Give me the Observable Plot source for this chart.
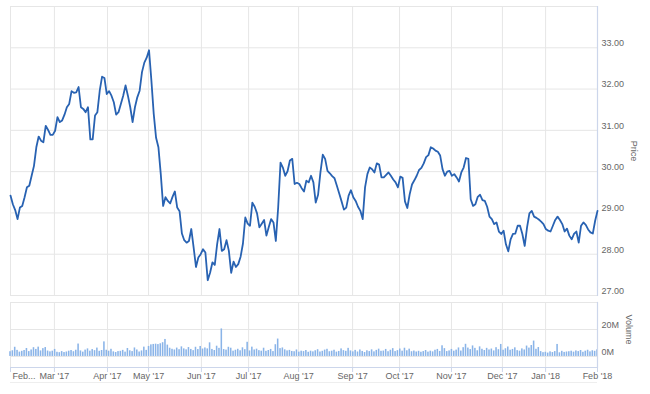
<!DOCTYPE html>
<html>
<head>
<meta charset="utf-8">
<script src="https://cdn.jsdelivr.net/npm/d3@7"></script>
<script src="https://cdn.jsdelivr.net/npm/@observablehq/plot@0.6"></script>
<style>
  body { margin: 0; background: #fff; }
  #chart { width: 650px; height: 394px; position: relative; overflow: hidden; }
  #chart svg { display: block; }
</style>
</head>
<body>
<div id="chart"></div>
<script>
// Daily closing price, one value per trading day (Feb 2017 – Feb 2018)
const price = [
  29.42, 29.21, 29.07, 28.85, 29.13, 29.17, 29.38, 29.62, 29.66, 29.90,
  30.14, 30.59, 30.85, 30.75, 30.71, 31.11, 31.01, 30.89, 30.89, 30.99,
  31.32, 31.20, 31.24, 31.38, 31.56, 31.64, 31.95, 31.91, 31.92, 32.05,
  31.56, 31.52, 31.44, 31.56, 30.78, 30.78, 31.36, 31.44, 31.96, 32.30,
  32.27, 31.88, 31.95, 31.84, 31.68, 31.38, 31.44, 31.64, 31.84, 32.09,
  31.84, 31.56, 31.20, 31.56, 31.80, 31.96, 32.41, 32.64, 32.76, 32.94,
  32.21, 31.40, 30.82, 30.59, 29.94, 29.17, 29.38, 29.29, 29.23, 29.39,
  29.52, 29.13, 29.04, 28.50, 28.34, 28.28, 28.32, 28.61, 28.16, 27.69,
  27.92, 28.00, 28.12, 28.04, 27.37, 27.55, 27.80, 27.74, 28.24, 28.61,
  28.08, 28.12, 28.34, 28.08, 27.55, 27.82, 27.69, 27.76, 27.94, 28.26,
  28.89, 28.74, 28.69, 29.25, 29.15, 28.99, 28.65, 28.74, 28.83, 28.45,
  28.66, 28.85, 28.77, 28.32, 29.13, 30.22, 30.10, 29.90, 30.01, 30.27,
  30.31, 29.70, 29.73, 29.70, 29.60, 29.52, 29.78, 29.74, 29.90, 29.74,
  29.25, 29.44, 29.98, 30.41, 30.31, 30.02, 29.96, 29.89, 29.84, 29.66,
  29.47, 29.28, 29.08, 29.13, 29.42, 29.55, 29.38, 29.29, 29.15, 29.05,
  28.85, 29.62, 29.94, 30.10, 30.06, 29.98, 30.20, 30.17, 29.86, 29.86,
  29.92, 29.98, 29.90, 29.81, 29.74, 29.62, 29.88, 29.85, 29.28, 29.12,
  29.45, 29.69, 29.79, 29.90, 30.04, 30.09, 30.20, 30.35, 30.40, 30.59,
  30.56, 30.51, 30.48, 30.39, 30.06, 29.90, 30.00, 30.02, 29.90, 29.94,
  29.86, 29.76, 29.98, 30.10, 30.33, 30.31, 29.33, 29.17, 29.21, 29.39,
  29.44, 29.31, 29.29, 29.15, 28.91, 28.85, 28.73, 28.77, 28.55, 28.49,
  28.57, 28.24, 28.07, 28.36, 28.49, 28.50, 28.69, 28.69, 28.49, 28.20,
  28.65, 28.99, 29.05, 28.91, 28.88, 28.84, 28.79, 28.73, 28.61, 28.57,
  28.55, 28.69, 28.83, 28.91, 28.83, 28.73, 28.55, 28.62, 28.45, 28.36,
  28.49, 28.55, 28.28, 28.69, 28.77, 28.71, 28.60, 28.53, 28.50, 28.81,
  29.05
];

// Daily volume in millions, same trading days
const volume = [
  3.5, 4.2, 6.8, 4.5, 3.2, 3.8, 4.4, 5.9, 3.6, 4.8, 6.5, 5.2, 6.9, 4.1, 5.8, 6.6, 4.0, 3.4, 3.9,
  5.2, 3.1, 2.8, 3.6, 2.9, 3.3, 3.9, 4.4, 3.5, 4.6, 9.2, 4.1, 3.2, 4.7, 5.6, 3.9, 5.1, 4.3, 6.2, 3.8, 4.4, 10.8, 4.6,
  3.9, 5.3, 3.4, 2.9, 3.6, 3.8, 4.5, 3.2, 5.9, 4.2, 3.6, 6.3, 4.8, 3.3, 4.1, 6.9, 4.5, 7.4, 8.6,
  8.9, 9.1, 8.8, 9.4, 10.2, 12.6, 8.4, 6.1, 5.3, 4.8, 6.2, 5.0, 7.1, 5.6, 4.9, 6.6, 5.2, 4.3, 6.8, 5.1, 7.4, 5.5,
  6.3, 5.6, 10.1, 5.2, 4.4, 7.6, 6.0, 20.4, 5.1, 4.7, 6.8, 6.1, 3.9, 4.6, 5.3, 4.2, 6.4, 5.0, 10.5, 4.1, 6.9, 4.8,
  5.4, 4.3, 3.9, 6.1, 3.8, 4.4, 5.2, 3.6, 8.7, 12.9, 5.8, 6.3, 4.9, 4.1, 4.5, 3.7, 3.5, 4.8, 3.2, 3.9,
  3.6, 4.4, 3.1, 3.9, 3.4, 4.2, 5.0, 3.3, 3.8, 4.7, 5.3, 3.5, 3.9, 4.6, 3.2, 3.7, 5.6, 4.3, 3.8, 6.0, 4.1, 3.4, 4.5,
  3.3, 4.8, 3.7, 2.9, 4.2, 3.6, 4.9, 3.4, 4.5, 5.4, 3.8, 4.0, 5.2, 3.5, 4.6, 5.8, 3.6, 4.3, 5.5, 3.9,
  6.1, 4.2, 5.4, 3.5, 4.0, 3.3, 3.8, 3.1, 3.6, 4.4, 3.2, 3.9, 3.4, 4.6, 5.2, 3.7, 7.9, 5.8, 3.6, 4.1, 5.2, 3.9,
  4.7, 6.3, 4.0, 6.5, 9.0, 6.2, 5.1, 7.8, 6.0, 4.2, 7.1, 5.3, 4.4, 6.0, 4.8, 5.5, 4.1, 6.5, 5.0, 8.9, 4.6,
  5.7, 7.0, 4.6, 5.2, 6.4, 4.3, 3.9, 5.6, 4.8, 7.7, 6.2, 8.1, 11.4, 5.3, 6.6, 3.6, 2.8, 3.1, 2.5, 3.4,
  2.9, 3.6, 8.9, 2.7, 3.8, 3.0, 3.3, 3.5, 3.9, 3.2, 4.1, 3.6, 4.4, 3.1, 3.9, 4.6, 3.4, 4.2, 3.8, 4.9
];

// Month boundaries on the trading-day axis and their labels
const monthTicks = [0, 18.7, 41.3, 58.8, 81.3, 101.4, 122.7, 145.7, 165.7, 187.8, 209.5, 227.9, 250];
const monthLabels = ["Feb...", "Mar '17", "Apr '17", "May '17", "Jun '17", "Jul '17", "Aug '17",
                     "Sep '17", "Oct '17", "Nov '17", "Dec '17", "Jan '18", "Feb '18"];
const priceTicks = [27, 28, 29, 30, 31, 32, 33];
const priceGrid = [27, 28, 29, 30, 31, 32, 33, 34];
const volumeTicks = [0, 20];
const volumeGrid = [0, 20, 40];

const priceData = price.map((p, i) => ({i, p}));
const volData = volume.map((v, i) => ({i, v}));
const labelData = monthTicks.map((t, k) => ({t, label: monthLabels[k]}));

const FONT = "'Liberation Sans', Arial, Helvetica, sans-serif";
const GRID = "#e6e6e6";
const AXIS = "#ccd6eb";
const TEXT = "#666666";

const common = {
  width: 650,
  marginLeft: 10,
  marginRight: 53,
  style: {fontFamily: FONT, fontSize: "9px", color: TEXT, background: "#fff", overflow: "visible"}
};

const priceChart = Plot.plot({
  ...common,
  height: 300,
  marginTop: 6,
  marginBottom: 5,
  x: {domain: [0, 250], axis: null},
  y: {domain: [27, 34], axis: null},
  marks: [
    Plot.ruleY(priceGrid, {stroke: GRID, strokeWidth: 1}),
    Plot.ruleX(monthTicks, {stroke: GRID, strokeWidth: 1}),
    Plot.frame({anchor: "right", stroke: AXIS, strokeWidth: 1.2}),
    Plot.line(priceData, {x: "i", y: "p", stroke: "#2862b2", strokeWidth: 1.8, strokeLinejoin: "round"}),
    Plot.axisY({anchor: "right", ticks: priceTicks, tickFormat: d => d.toFixed(2), tickSize: 0, tickPadding: 4, dy: -4.5, label: null, fill: TEXT}),
    Plot.text(["Price"], {frameAnchor: "right", textAnchor: "middle", rotate: 90, dx: 36, fill: TEXT, fontSize: 9})
  ]
});

const volumeChart = Plot.plot({
  ...common,
  height: 94,
  marginTop: 2,
  marginBottom: 27,
  x: {domain: [0, 250], axis: null},
  y: {domain: [-8.2, 40], axis: null},
  marks: [
    Plot.ruleY(volumeGrid, {stroke: GRID, strokeWidth: 1}),
    Plot.ruleX(monthTicks, {stroke: GRID, strokeWidth: 1}),
    Plot.rectY(volData, {x1: d => d.i - 0.33, x2: d => d.i + 0.33, y: "v", fill: "#8ab4e8"}),
    Plot.frame({anchor: "right", stroke: AXIS, strokeWidth: 1.2}),
    Plot.frame({anchor: "bottom", stroke: AXIS, strokeWidth: 1}),
    Plot.ruleY([-8.2], {stroke: "#eeeeee", dy: 15}),
    Plot.axisX({ticks: monthTicks, tickSize: 5, tickFormat: () => "", stroke: AXIS, label: null}),
    Plot.text(labelData.slice(1), {x: "t", text: "label", frameAnchor: "bottom", dy: 11, fill: TEXT, fontSize: 9}),
    Plot.text(labelData.slice(0, 1), {x: "t", text: "label", frameAnchor: "bottom", dy: 11, dx: 2, textAnchor: "start", fill: TEXT, fontSize: 9}),
    Plot.axisY({anchor: "right", ticks: volumeTicks, tickFormat: d => d + "M", tickSize: 0, tickPadding: 4, dy: -4, label: null, fill: TEXT}),
    Plot.text(["Volume"], {frameAnchor: "right", textAnchor: "middle", rotate: 90, dx: 31, dy: -5.5, fill: TEXT, fontSize: 9})
  ]
});

const el = document.getElementById("chart");
el.appendChild(priceChart);
el.appendChild(volumeChart);
</script>
</body>
</html>
